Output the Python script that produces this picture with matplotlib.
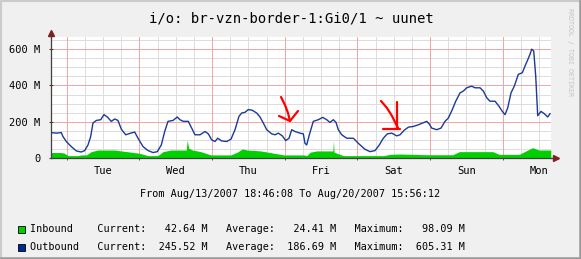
import matplotlib
matplotlib.use("Agg")
import matplotlib.pyplot as plt
from matplotlib.lines import Line2D
import numpy as np

# ---- data (hours since Aug/13 18:46, values in Mbit/s) ----
out_hours = [0.1, 1.75, 3.4, 3.96, 5.05, 6.7, 8.36, 10.0, 11.13, 12.22, 13.1, 13.87,
             14.97, 16.42, 17.5, 18.6, 19.9, 21.04, 22.13, 23.22, 24.68, 26.33, 27.65,
             28.74, 30.4, 32.05, 33.7, 35.12, 36.44, 37.56, 38.65, 40.3, 41.72, 42.6,
             43.7, 45.36, 46.48, 47.57, 49.22, 50.88, 51.97, 53.09, 54.18, 55.07, 56.39,
             58.04, 59.46, 60.79, 62.1, 63.0, 64.09, 65.18, 66.5, 67.95, 69.05, 70.13,
             71.26, 72.91, 74.0, 75.09, 76.41, 77.54, 78.63, 79.52, 80.6, 82.26, 83.35,
             83.9, 84.47, 85.33, 86.65, 88.3, 89.76, 91.08, 92.17, 93.26, 94.15, 94.91,
             96.04, 97.69, 99.87, 101.52, 103.73, 105.39, 107.04, 108.46, 109.78, 111.1,
             112.55, 114.2, 115.3, 116.62, 118.04, 119.69, 121.34, 122.8, 124.12, 124.97,
             125.77, 127.42, 128.84, 130.16, 131.25, 132.57, 133.7, 135.12, 136.21,
             137.33, 138.98, 140.07, 141.72, 142.82, 143.94, 145.03, 146.68, 148.0,
             149.09, 149.98, 150.87, 151.96, 153.05, 154.37, 155.7, 156.59, 157.48,
             158.24, 158.8, 159.46, 160.12, 160.78, 161.87, 162.96, 164.08, 164.85]
out_vals = [140, 137, 140, 118, 91, 63, 39, 33, 41, 72, 118, 193,
            207, 211, 239, 226, 202, 215, 207, 159, 128, 137, 143,
            109, 63, 41, 30, 35, 72, 146, 202, 207, 226, 211,
            202, 202, 165, 128, 128, 146, 133, 100, 91, 109, 94,
            91, 104, 156, 230, 248, 252, 267, 263, 248, 226, 193,
            156, 133, 128, 137, 122, 96, 109, 156, 146, 137, 133,
            81, 72, 128, 202, 211, 224, 211, 196, 211, 196, 156,
            128, 109, 109, 81, 48, 35, 41, 72, 109, 133,
            137, 122, 128, 152, 170, 174, 183, 193, 202, 187,
            165, 156, 165, 202, 220, 267, 313, 359, 369,
            387, 396, 387, 387, 369, 332, 313, 313, 285,
            257, 239, 276, 359, 396, 461, 470, 507, 541,
            572, 600, 590, 452, 233, 257, 244, 226, 244]

in_hours = [0.1, 3.4, 4.5, 5.6, 8.9, 10.0, 11.7, 13.3, 15.5, 21.0, 23.2, 26.5, 29.3,
            32.0, 35.3, 37.0, 39.7, 43.9, 44.7, 45.0, 45.5, 46.7, 49.5, 52.8, 59.4,
            61.5, 63.2, 64.8, 69.3, 73.7, 77.0, 83.6, 84.5, 85.6, 87.8, 93.1, 93.3,
            93.5, 96.6, 109.8, 112.0, 115.3, 123.9, 132.7, 134.9, 138.2, 145.9, 148.1,
            154.7, 156.9, 159.1, 161.2, 164.6, 165.1]
in_vals = [30, 30, 26, 13, 13, 17, 17, 35, 44, 44, 39, 32, 26,
           13, 13, 35, 44, 44, 44, 98, 54, 44, 35, 17, 17,
           32, 50, 44, 39, 26, 17, 17, 13, 32, 39, 39, 94,
           32, 13, 13, 20, 22, 18, 18, 35, 35, 35, 20,
           20, 39, 57, 44, 44, 43]

span_hours = 165.17          # Aug/13 18:46:08 -> Aug/20 15:56:12
first_midnight = 5.23        # Tue 00:00 relative to start
day_names = ["Tue", "Wed", "Thu", "Fri", "Sat", "Sun", "Mon"]
y_ticks = [0, 200, 400, 600]
y_labels = ["0", "200 M", "400 M", "600 M"]

title = "i/o: br-vzn-border-1:Gi0/1 ~ uunet"
period = "From Aug/13/2007 18:46:08 To Aug/20/2007 15:56:12"
legend_rows = [("Inbound", "#00cf00", 42.64, 24.41, 98.09),
               ("Outbound", "#002a97", 245.52, 186.69, 605.31)]

W, H = 581, 259
MONO = "DejaVu Sans Mono"


def fx(x):
    return x / W


def fy(y):
    return 1 - y / H


fig = plt.figure(figsize=(W / 100, H / 100), dpi=100, facecolor="#f0f0f0")

# 3D frame
fig.add_artist(Line2D([fx(1), fx(1), fx(W - 1)], [fy(H - 1), fy(1), fy(1)],
                      color="#cbcbcb", lw=1.5, transform=fig.transFigure))
fig.add_artist(Line2D([fx(1), fx(W - 1), fx(W - 1)], [fy(H - 1), fy(H - 1), fy(1)],
                      color="#999999", lw=1.8, transform=fig.transFigure))

ax = fig.add_axes([fx(51), fy(158), 500 / W, 121 / H])
ax.set_facecolor("white")
ax.set_xlim(0, span_hours)
ax.set_ylim(0, 667)

# grid
six_h = np.arange(first_midnight, span_hours, 6.0)
for i, t in enumerate(six_h):
    if i % 4 == 0:
        ax.axvline(t, color="#f5a3a3", lw=0.7, zorder=1)
    else:
        ax.axvline(t, color="#dcdcdc", lw=0.7, zorder=0.5)
for v in np.arange(50, 667, 50):
    if v % 200 == 0:
        ax.axhline(v, color="#f5a3a3", lw=0.7, zorder=1)
    else:
        ax.axhline(v, color="#dcdcdc", lw=0.7, zorder=0.5)

# series
ax.fill_between(in_hours, in_vals, color="#00cf00", lw=0, zorder=2)
ax.plot(out_hours, out_vals, color="#1a3a9c", lw=1.0, zorder=3)

# axes / ticks
for s in ["top", "right"]:
    ax.spines[s].set_visible(False)
for s in ["left", "bottom"]:
    ax.spines[s].set_color("#404040")
    ax.spines[s].set_linewidth(0.9)
    ax.spines[s].set_zorder(4)

noon = [first_midnight + 12 + 24 * k for k in range(len(day_names))]
ax.set_xticks(noon)
ax.set_xticklabels(day_names, family=MONO, fontsize=7.5)
ax.set_xticks(six_h[::4], minor=True)
ax.tick_params(axis="x", which="major", length=0, pad=6)
ax.tick_params(axis="x", which="minor", length=3, direction="inout", color="#404040")
ax.set_yticks(y_ticks)
ax.set_yticklabels(y_labels, family=MONO, fontsize=7.5)
ax.tick_params(axis="y", which="major", length=3, direction="inout", color="#404040", pad=6)

# axis arrows
ax.plot([0, 0], [1.0, 1.03], transform=ax.transAxes, color="#404040", lw=0.9, clip_on=False)
ax.plot([0], [1.035], marker="^", ms=4, color="#7f1f1f", transform=ax.transAxes, clip_on=False)
ax.plot([1.0, 1.008], [0, 0], transform=ax.transAxes, color="#404040", lw=0.9, clip_on=False)
ax.plot([1.01], [0], marker=">", ms=4, color="#7f1f1f", transform=ax.transAxes, clip_on=False)

# texts
fig.text(fx(291), fy(18), title, family=MONO, fontsize=10, ha="center", va="center")
fig.text(fx(290), fy(194), period, family=MONO, fontsize=7.3, ha="center", va="center")
fig.text(fx(570), fy(8), "RRDTOOL / TOBI OETIKER", family=MONO, fontsize=4.8,
         color="#c4c4c4", rotation=-90, ha="center", va="top")

for i, (name, col, cur, avg, mx) in enumerate(legend_rows):
    yy = 229 + 18 * i
    fig.patches.append(plt.Rectangle((fx(18), fy(yy + 3.5)), 7 / W, 7 / H, facecolor=col,
                                     edgecolor="black", lw=0.6, transform=fig.transFigure))
    line = f"{name:<11s}Current:{cur:8.2f} M   Average:{avg:8.2f} M   Maximum:{mx:8.2f} M"
    fig.text(fx(30), fy(yy), line, family=MONO, fontsize=7.3, ha="left", va="center")

# hand-drawn red arrows on the original screenshot
scribbles = [
    [(281, 97), (285, 105), (288, 113), (290, 121)],
    [(279, 116), (290, 121), (298, 111)],
    [(381, 101), (387, 108), (392, 116), (398, 128)],
    [(397, 102), (397, 129)],
    [(383, 129), (400, 129)],
]
for pts in scribbles:
    xs = [fx(p[0]) for p in pts]
    ys = [fy(p[1]) for p in pts]
    fig.add_artist(Line2D(xs, ys, color="#ff0000", lw=1.6, solid_capstyle="round",
                          transform=fig.transFigure, zorder=10))

fig.savefig("out.png", dpi=100, facecolor=fig.get_facecolor())
